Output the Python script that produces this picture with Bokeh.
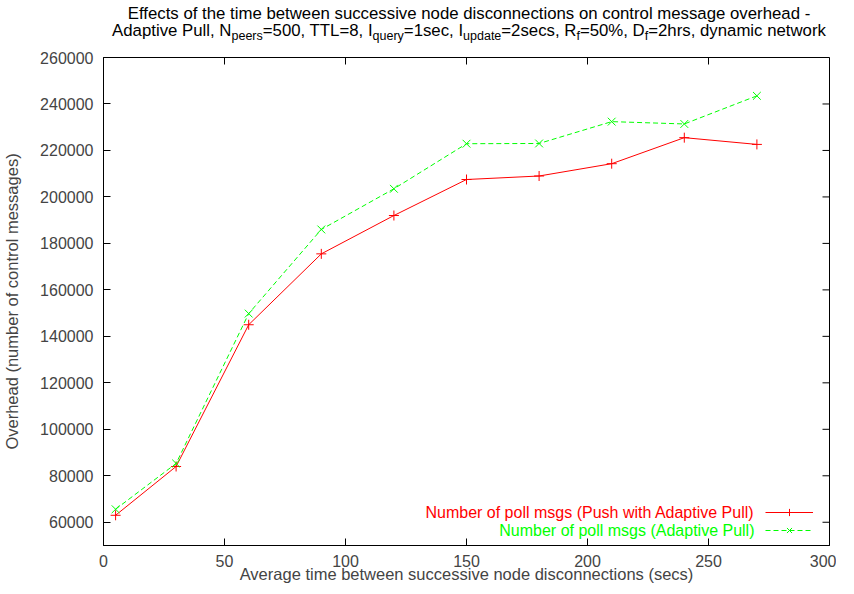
import math
from bokeh.plotting import figure
from bokeh.models import (Div, FixedTicker, Range1d, Label, Legend, LegendItem,
                          NumeralTickFormatter)
from bokeh.layouts import column
from bokeh.embed import file_html
from bokeh.resources import INLINE

# ---- data ----
x_secs = [5, 30, 60, 90, 120, 150, 180, 210, 240, 270]
push_adaptive = [63000, 84000, 145000, 175500, 192000, 207500, 209000, 214300, 225500, 222600]
adaptive_pull = [65600, 85300, 149800, 186000, 203500, 222900, 223000, 232400, 231400, 243500]
x_ticks = [0, 50, 100, 150, 200, 250, 300]
y_ticks = [60000, 80000, 100000, 120000, 140000, 160000, 180000, 200000, 220000, 240000, 260000]
x_lim = (0, 300)
y_lim = (50000, 260000)
series_names = ["Number of poll msgs (Push with Adaptive Pull)", "Number of poll msgs (Adaptive Pull)"]

FONT = "Liberation Sans"
RED = "#ff0000"
GREEN = "#00ff00"

SUB = 'style="font-size:12.5px;vertical-align:-4px;line-height:0"'
title_html = (
    '<div style="margin-left:94px;width:740px;text-align:center;font-family:\'Liberation Sans\';'
    'font-size:16.8px;line-height:17px;color:#000;margin-top:0px;white-space:nowrap">'
    'Effects of the time between successive node disconnections on control message overhead -<br>'
    f'Adaptive Pull, N<sub {SUB}>peers</sub>=500, TTL=8, '
    f'I<sub {SUB}>query</sub>=1sec, '
    f'I<sub {SUB}>update</sub>=2secs, '
    f'R<sub {SUB}>f</sub>=50%, '
    f'D<sub {SUB}>f</sub>=2hrs, dynamic network</div>'
)
title = Div(text=title_html, width=836, height=40, styles={"overflow": "hidden"})

p = figure(width=836, height=536, output_backend="svg", toolbar_location=None,
           x_range=Range1d(*x_lim), y_range=Range1d(*y_lim),
           min_border_left=99, min_border_right=7, min_border_top=7, min_border_bottom=41)
p.xgrid.visible = False
p.ygrid.visible = False
p.outline_line_color = "black"
p.outline_line_width = 1
p.outline_line_alpha = 1

for ax in (p.xaxis[0], p.yaxis[0]):
    ax.major_tick_in = 7
    ax.major_tick_out = 0
    ax.minor_tick_line_color = None
    ax.axis_line_color = "black"
    ax.major_label_text_font = FONT
    ax.major_label_text_font_size = "16px"
    ax.axis_label_text_font = FONT
    ax.axis_label_text_font_size = "16.5px"
    ax.axis_label_text_font_style = "normal"
p.xaxis[0].ticker = FixedTicker(ticks=x_ticks)
p.yaxis[0].ticker = FixedTicker(ticks=y_ticks)
p.yaxis[0].formatter = NumeralTickFormatter(format="0")
p.xaxis[0].axis_label = "Average time between successive node disconnections (secs)"
p.yaxis[0].axis_label = "Overhead (number of control messages)"
p.xaxis[0].major_label_standoff = 9
p.yaxis[0].major_label_standoff = 10
p.xaxis[0].axis_label_standoff = -5
p.yaxis[0].axis_label_standoff = 16

# mirror ticks on the top and right borders (inward, 7 px)
p.ray(x=x_ticks, y=[y_lim[1]] * len(x_ticks), length=7, length_units="screen",
      angle=-math.pi / 2, line_color="black", line_width=1)
p.ray(x=[x_lim[1]] * len(y_ticks), y=y_ticks, length=7, length_units="screen",
      angle=math.pi, line_color="black", line_width=1)

l1 = p.line(x_secs, push_adaptive, line_color=RED, line_width=1)
m1 = p.scatter(x_secs, push_adaptive, marker="cross", size=10, line_color=RED, line_width=1)
l2 = p.line(x_secs, adaptive_pull, line_color=GREEN, line_width=1, line_dash="5 3")
m2 = p.scatter(x_secs, adaptive_pull, marker="x", size=11, line_color=GREEN, line_width=1)

legend = Legend(items=[LegendItem(label=" ", renderers=[l1, m1]),
                       LegendItem(label=" ", renderers=[l2, m2])],
                location=(662, 6), glyph_width=48, glyph_height=18, spacing=0,
                padding=0, margin=0, label_width=0, label_standoff=0, label_height=18,
                label_text_font_size="1px", border_line_color=None,
                background_fill_alpha=0)
p.add_layout(legend, "center")

lab1 = Label(x=651, y=33, x_units="screen", y_units="screen", text=series_names[0],
             text_align="right", text_baseline="middle", text_color=RED,
             text_font=FONT, text_font_size="16px")
lab2 = Label(x=651, y=15, x_units="screen", y_units="screen", text=series_names[1],
             text_align="right", text_baseline="middle", text_color=GREEN,
             text_font=FONT, text_font_size="16px")
p.add_layout(lab1)
p.add_layout(lab2)

layout = column(title, p, spacing=0)
open("out.html", "w").write(file_html(layout, INLINE))
